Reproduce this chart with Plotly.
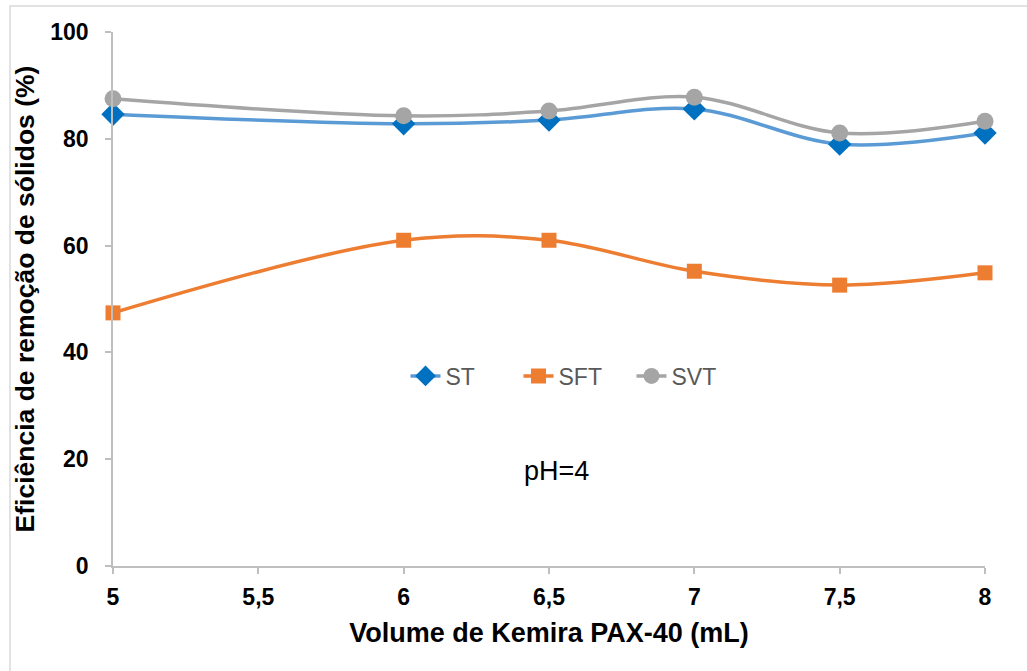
import plotly.graph_objects as go

volume = [5, 6, 6.5, 7, 7.5, 8]
st = [84.6, 82.8, 83.5, 85.6, 79.0, 81.1]
sft = [47.4, 61.0, 61.0, 55.2, 52.6, 54.9]
svt = [87.5, 84.3, 85.2, 87.8, 81.1, 83.3]

x_ticks = [5, 5.5, 6, 6.5, 7, 7.5, 8]
x_tick_labels = ["5", "5,5", "6", "6,5", "7", "7,5", "8"]
y_ticks = [0, 20, 40, 60, 80, 100]

fig = go.Figure()
fig.add_trace(go.Scatter(x=volume, y=st, name="ST", mode="lines+markers", cliponaxis=False,
                         line=dict(color="#5B9BD5", width=3.5, shape="spline", smoothing=1),
                         marker=dict(symbol="diamond", size=18, color="#0070C0")))
fig.add_trace(go.Scatter(x=volume, y=sft, name="SFT", mode="lines+markers", cliponaxis=False,
                         line=dict(color="#ED7D31", width=3.5, shape="spline", smoothing=1),
                         marker=dict(symbol="square", size=15, color="#ED7D31")))
fig.add_trace(go.Scatter(x=volume, y=svt, name="SVT", mode="lines+markers", cliponaxis=False,
                         line=dict(color="#A5A5A5", width=3.5, shape="spline", smoothing=1),
                         marker=dict(symbol="circle", size=17, color="#A5A5A5")))

L, R, T, B = 113, 42, 32, 105
W, H = 1027, 671
pw, ph = W - L - R, H - T - B

def px_x(p):
    return (p - L) / pw

def px_y(p):
    return (H - B - p) / ph

tickfont = dict(size=23, family="Liberation Sans, Arial", color="#000000", weight="bold")

fig.update_layout(
    width=W, height=H,
    margin=dict(l=L, r=R, t=T, b=B),
    paper_bgcolor="white", plot_bgcolor="white",
    font=dict(family="Liberation Sans, Arial", color="#000000"),
    showlegend=True,
    legend=dict(orientation="h", x=px_x(575), xanchor="center", y=px_y(376), yanchor="middle",
                font=dict(size=23, color="#595959"), bgcolor="rgba(0,0,0,0)",
                entrywidth=68, entrywidthmode="pixels", tracegroupgap=0),
    xaxis=dict(range=[5, 8], tickvals=x_ticks, ticktext=x_tick_labels,
               showgrid=False, zeroline=False, showline=True, linecolor="#BFBFBF", linewidth=1.5,
               ticks="outside", ticklen=6, tickcolor="#BFBFBF", tickwidth=1.5,
               ticklabelstandoff=4, tickfont=tickfont,
               title=dict(text="<b>Volume de Kemira PAX-40 (mL)</b>", font=dict(size=27), standoff=14)),
    yaxis=dict(range=[0, 100], tickvals=y_ticks,
               showgrid=False, zeroline=False, showline=True, linecolor="#BFBFBF", linewidth=1.5,
               ticks="outside", ticklen=6, tickcolor="#BFBFBF", tickwidth=1.5,
               ticklabelstandoff=12, tickfont=tickfont,
               title=dict(text="<b>Eficiência de remoção de sólidos (%)</b>", font=dict(size=26.5), standoff=8)),
    annotations=[dict(text="pH=4", x=px_x(556), y=px_y(471), xref="paper", yref="paper",
                      xanchor="center", yanchor="middle",
                      showarrow=False, font=dict(size=27, color="#000000"))],
    shapes=[dict(type="rect", xref="paper", yref="paper",
                 x0=px_x(10), y0=px_y(700), x1=px_x(1040), y1=px_y(6),
                 line=dict(color="#D9D9D9", width=1.5), fillcolor="rgba(0,0,0,0)", layer="below")],
)

fig.write_html("out.html")
